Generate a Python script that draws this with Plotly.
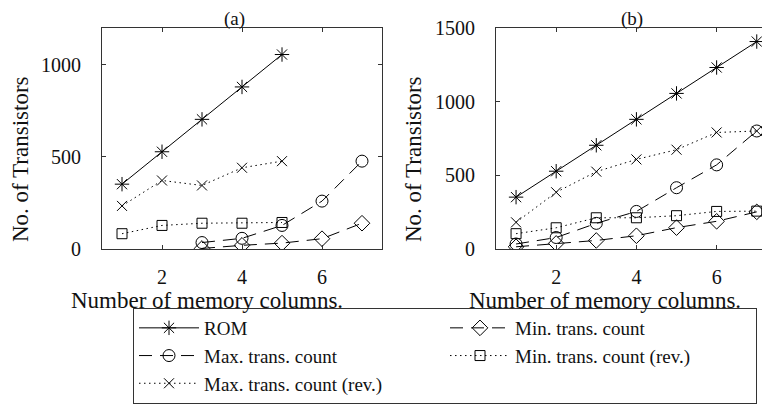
import plotly.graph_objects as go

# the page body has an 8px margin: the figure is placed at (8, 8)
OFF = 8
W, H = 770 - OFF, 408 - OFF

# ---------------- data ----------------
cols_a_full = [1, 2, 3, 4, 5]
cols_a_min = [3, 4, 5, 6, 7]
rom_a = [352, 528, 704, 880, 1056]
max_rev_a = [234, 372, 345, 441, 477]
min_rev_a = [83, 128, 140, 140, 144]
max_tc_a = [35, 58, 128, 260, 477]
min_tc_a = [3, 20, 32, 56, 140]

cols_b = [1, 2, 3, 4, 5, 6, 7]
rom_b = [352, 528, 704, 880, 1056, 1232, 1408]
max_rev_b = [181, 385, 525, 608, 674, 791, 801]
max_tc_b = [34, 78, 174, 255, 416, 571, 801]
min_rev_b = [104, 144, 212, 212, 226, 255, 257]
min_tc_b = [15, 38, 58, 90, 145, 188, 252]

xticks = [2, 4, 6]
yticks_a = [0, 500, 1000]
yticks_b = [0, 500, 1000, 1500]

names = {
    "rom": "ROM",
    "min": "Min. trans. count",
    "max": "Max. trans. count",
    "minrev": "Min. trans. count (rev.)",
    "maxrev": "Max. trans. count (rev.)",
}

FONT = "Liberation Serif"
INK = "#111111"
AX = "#333333"


def fx(px):
    return (px - OFF) / W


def fy(py):
    return 1 - (py - OFF) / H


styles = {
    "rom": dict(dash="solid", symbol="asterisk-open", size=12),
    "min": dict(dash="13px,8px", symbol="diamond-open", size=12),
    "max": dict(dash="13px,8px", symbol="circle-open", size=12),
    "minrev": dict(dash="1.5px,3.5px", symbol="square-open", size=10),
    "maxrev": dict(dash="1.5px,3.5px", symbol="x-thin-open", size=10),
}

fig = go.Figure()


def add(key, x, y, xa, ya, show):
    s = styles[key]
    fig.add_trace(go.Scatter(
        x=x, y=y, mode="lines+markers", name=names[key],
        xaxis=xa, yaxis=ya, showlegend=show, legendgroup=key,
        line=dict(color="black", width=1, dash=s["dash"]),
        marker=dict(symbol=s["symbol"], size=s["size"], color="black",
                    line=dict(color="black", width=1)),
    ))


# order for legend (row-major, 2 columns): ROM, Min, Max, Min rev, Max rev
add("rom", cols_a_full, rom_a, "x", "y", True)
add("min", cols_a_min, min_tc_a, "x", "y", True)
add("max", cols_a_min, max_tc_a, "x", "y", True)
add("minrev", cols_a_full, min_rev_a, "x", "y", True)
add("maxrev", cols_a_full, max_rev_a, "x", "y", True)

add("rom", cols_b, rom_b, "x2", "y2", False)
add("min", cols_b, min_tc_b, "x2", "y2", False)
add("max", cols_b, max_tc_b, "x2", "y2", False)
add("minrev", cols_b, min_rev_b, "x2", "y2", False)
add("maxrev", cols_b, max_rev_b, "x2", "y2", False)

ydom = [fy(249), fy(28)]
tickfont = dict(family=FONT, size=20, color=INK)

common_x = dict(tickmode="array", tickvals=xticks, ticks="inside", ticklen=4,
                tickcolor=AX, showline=True, linecolor=AX, linewidth=1,
                showgrid=False, zeroline=False, tickfont=tickfont,
                ticklabelstandoff=10)
common_y = dict(ticks="inside", ticklen=4, tickcolor=AX, showline=True,
                linecolor=AX, linewidth=1, showgrid=False, zeroline=False,
                tickfont=tickfont, ticklabelstandoff=16)

fig.update_layout(
    width=W, height=H,
    margin=dict(l=0, r=0, t=0, b=0, autoexpand=False),
    paper_bgcolor="white", plot_bgcolor="white",
    font=dict(family=FONT, color=INK),
    xaxis=dict(domain=[fx(102), fx(382)], range=[0.5, 7.5], mirror="ticks",
               anchor="y", **common_x),
    yaxis=dict(domain=ydom, range=[0, 1200], tickvals=yticks_a,
               mirror="ticks", anchor="x", **common_y),
    xaxis2=dict(domain=[fx(496), 1.0], range=[0.5, 7.33], mirror="ticks",
                anchor="y2", **common_x),
    yaxis2=dict(domain=ydom, range=[0, 1500], tickvals=yticks_b,
                mirror=False, anchor="x2", **common_y),
    legend=dict(
        orientation="h", x=fx(133), xanchor="left", y=fy(404),
        yanchor="bottom", bordercolor=AX, borderwidth=1, bgcolor="white",
        font=dict(family=FONT, size=19, color=INK),
        entrywidth=236, entrywidthmode="pixels", itemwidth=60,
        traceorder="normal",
    ),
    showlegend=True,
)

# panel titles, anchored at the top edge of the figure
for txt, xpos in (("(a)", 234), ("(b)", 632)):
    fig.add_annotation(text=txt, x=fx(xpos), y=1.0, xref="paper", yref="paper",
                       showarrow=False, xanchor="center", yanchor="top",
                       borderpad=0, borderwidth=0,
                       font=dict(family=FONT, size=19, color=INK))

for xpos in (207, 605):
    fig.add_annotation(text="Number of memory columns.", x=fx(xpos),
                       y=fy(300), xref="paper", yref="paper",
                       showarrow=False, xanchor="center", yanchor="middle",
                       borderpad=0,
                       font=dict(family=FONT, size=23, color=INK))
for xpos in (21, 414):
    fig.add_annotation(text="No. of Transistors", x=fx(xpos), y=fy(159),
                       xref="paper", yref="paper", showarrow=False,
                       textangle=-90, xanchor="center", yanchor="middle",
                       borderpad=0,
                       font=dict(family=FONT, size=23, color=INK))

fig.write_html("out.html")
